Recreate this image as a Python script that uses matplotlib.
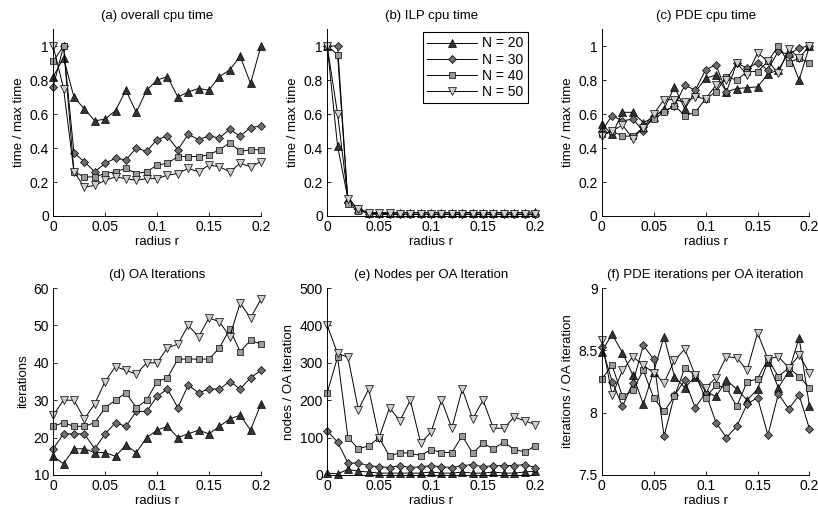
import numpy as np
import matplotlib
matplotlib.use("Agg")
import matplotlib.pyplot as plt
from matplotlib.ticker import FormatStrFormatter

plt.rcParams['font.family'] = ['Liberation Sans', 'DejaVu Sans']
plt.rcParams['font.size'] = 8.5

# radius values
r = np.arange(21) * 0.01
labels = ['N = 20', 'N = 30', 'N = 40', 'N = 50']

# (a) overall cpu time
a_n20 = [0.82, 0.93, 0.70, 0.63, 0.56, 0.57, 0.62, 0.74, 0.61, 0.74, 0.80, 0.82, 0.70, 0.73, 0.75, 0.74, 0.82, 0.86, 0.94, 0.78, 1.00]
a_n30 = [0.76, 1.00, 0.37, 0.32, 0.26, 0.31, 0.34, 0.33, 0.40, 0.38, 0.45, 0.47, 0.39, 0.48, 0.45, 0.47, 0.46, 0.51, 0.47, 0.52, 0.53]
a_n40 = [0.91, 1.00, 0.26, 0.23, 0.23, 0.25, 0.26, 0.28, 0.25, 0.26, 0.30, 0.31, 0.35, 0.35, 0.35, 0.36, 0.39, 0.43, 0.38, 0.39, 0.39]
a_n50 = [1.00, 0.75, 0.26, 0.17, 0.18, 0.21, 0.23, 0.22, 0.21, 0.22, 0.22, 0.24, 0.25, 0.28, 0.26, 0.30, 0.29, 0.26, 0.31, 0.29, 0.32]

# (b) ILP cpu time
b_n20 = [1.00, 0.41, 0.10, 0.04, 0.02, 0.02, 0.02, 0.02, 0.02, 0.02, 0.02, 0.02, 0.02, 0.02, 0.02, 0.02, 0.02, 0.02, 0.02, 0.02, 0.025]
b_n30 = [1.00, 1.00, 0.08, 0.04, 0.01, 0.01, 0.01, 0.01, 0.01, 0.01, 0.01, 0.01, 0.01, 0.01, 0.01, 0.01, 0.01, 0.01, 0.01, 0.01, 0.01]
b_n40 = [1.00, 0.95, 0.07, 0.03, 0.02, 0.01, 0.01, 0.01, 0.01, 0.01, 0.01, 0.01, 0.01, 0.01, 0.01, 0.01, 0.01, 0.01, 0.01, 0.01, 0.01]
b_n50 = [1.00, 0.60, 0.10, 0.04, 0.02, 0.015, 0.015, 0.01, 0.01, 0.01, 0.01, 0.01, 0.01, 0.01, 0.01, 0.01, 0.01, 0.01, 0.01, 0.01, 0.01]

# (c) PDE cpu time
c_n20 = [0.54, 0.48, 0.61, 0.61, 0.55, 0.58, 0.63, 0.76, 0.63, 0.73, 0.81, 0.83, 0.73, 0.75, 0.755, 0.76, 0.835, 0.86, 0.96, 0.80, 1.00]
c_n30 = [0.50, 0.59, 0.56, 0.57, 0.50, 0.59, 0.62, 0.645, 0.77, 0.74, 0.86, 0.89, 0.73, 0.90, 0.87, 0.90, 0.86, 0.97, 0.95, 0.99, 1.00]
c_n40 = [0.48, 0.50, 0.47, 0.47, 0.52, 0.57, 0.61, 0.65, 0.59, 0.61, 0.69, 0.73, 0.82, 0.80, 0.85, 0.85, 0.91, 1.00, 0.90, 0.93, 0.90]
c_n50 = [0.47, 0.50, 0.535, 0.455, 0.52, 0.60, 0.685, 0.685, 0.67, 0.70, 0.69, 0.77, 0.80, 0.90, 0.83, 0.96, 0.91, 0.84, 0.985, 0.93, 1.00]

# (d) OA iterations
d_n20 = [15, 13, 17, 17, 16, 16, 15, 18, 16, 20, 22, 23, 20, 21, 22, 21, 23, 25, 26, 22, 29]
d_n30 = [17, 21, 21, 21, 17, 21, 24, 23, 27, 27, 31, 33, 28, 34, 32, 33, 33, 35, 33, 36, 38]
d_n40 = [23, 24, 23, 23, 24, 28, 30, 32, 28, 30, 35, 36, 41, 41, 41, 41, 44, 49, 43, 46, 45]
d_n50 = [26, 30, 30, 25, 29, 35, 39, 38, 37, 40, 40, 44, 45, 50, 47, 52, 51, 47, 56, 52, 57]

# (e) nodes per OA iteration
e_n20 = [5, 3, 15, 10, 8, 5, 5, 5, 5, 5, 8, 5, 5, 8, 5, 5, 8, 5, 5, 8, 10]
e_n30 = [118, 88, 32, 32, 25, 22, 20, 25, 20, 22, 25, 22, 20, 25, 28, 22, 25, 25, 25, 28, 20]
e_n40 = [220, 315, 100, 70, 78, 100, 50, 60, 58, 52, 68, 60, 60, 105, 58, 85, 70, 88, 68, 62, 77]
e_n50 = [400, 325, 315, 175, 230, 100, 180, 145, 200, 85, 115, 200, 125, 230, 150, 200, 125, 125, 155, 145, 135]

# (f) PDE iterations per OA iteration
f_n20 = [8.49, 8.63, 8.48, 8.30, 8.07, 8.33, 8.61, 8.29, 8.20, 8.29, 8.17, 8.13, 8.26, 8.19, 8.10, 8.19, 8.41, 8.20, 8.33, 8.60, 8.05]
f_n30 = [8.53, 8.25, 8.05, 8.24, 8.54, 8.43, 7.81, 8.14, 8.26, 8.04, 8.16, 7.92, 7.80, 7.89, 8.07, 8.12, 7.82, 8.15, 8.03, 8.14, 7.87]
f_n40 = [8.27, 8.38, 8.13, 8.18, 8.34, 8.12, 8.01, 8.13, 8.36, 8.30, 8.12, 8.22, 8.20, 8.05, 8.25, 8.27, 8.43, 8.29, 8.36, 8.29, 8.20]
f_n50 = [8.58, 8.14, 8.34, 8.45, 8.38, 8.32, 8.24, 8.42, 8.51, 8.30, 8.20, 8.28, 8.45, 8.44, 8.34, 8.64, 8.43, 8.45, 8.36, 8.46, 8.32]

markers = ['^', 'D', 's', 'v']
fills = ['#333333', '#6e6e6e', '#9a9a9a', '#cfcfcf']
msizes = [5.5, 4.5, 4.5, 5.5]

panels = [
    ('(a) overall cpu time', 'time / max time', [a_n20, a_n30, a_n40, a_n50], (0, 1.1), [0, 0.2, 0.4, 0.6, 0.8, 1]),
    ('(b) ILP cpu time', 'time / max time', [b_n20, b_n30, b_n40, b_n50], (0, 1.1), [0, 0.2, 0.4, 0.6, 0.8, 1]),
    ('(c) PDE cpu time', 'time / max time', [c_n20, c_n30, c_n40, c_n50], (0, 1.1), [0, 0.2, 0.4, 0.6, 0.8, 1]),
    ('(d) OA Iterations', 'iterations', [d_n20, d_n30, d_n40, d_n50], (10, 60), [10, 20, 30, 40, 50, 60]),
    ('(e) Nodes per OA Iteration', 'nodes / OA iteration', [e_n20, e_n30, e_n40, e_n50], (0, 500), [0, 100, 200, 300, 400, 500]),
    ('(f) PDE iterations per OA iteration', 'iterations / OA iteration', [f_n20, f_n30, f_n40, f_n50], (7.5, 9), [7.5, 8, 8.5, 9]),
]

fig = plt.figure(figsize=(8.18, 5.15), dpi=100)
lefts = [0.065, 0.4, 0.7356]
bottoms = [0.5806, 0.0777]
w, h = 0.254, 0.363

for k, (title, ylab, series, ylim, yticks) in enumerate(panels):
    ax = fig.add_axes([lefts[k % 3], bottoms[k // 3], w, h])
    for s, m, fc, ms, lab in zip(series, markers, fills, msizes, labels):
        ax.plot(r, s, color='black', lw=0.7, marker=m, markerfacecolor=fc,
                markeredgecolor='black', markeredgewidth=0.5, markersize=ms,
                label=lab, clip_on=False)
    ax.set_xlim(0, 0.2)
    ax.set_ylim(*ylim)
    ax.set_xticks([0, 0.05, 0.1, 0.15, 0.2])
    ax.set_yticks(yticks)
    ax.xaxis.set_major_formatter(FormatStrFormatter('%g'))
    ax.yaxis.set_major_formatter(FormatStrFormatter('%g'))
    ax.spines['top'].set_visible(False)
    ax.spines['right'].set_visible(False)
    ax.spines['left'].set_linewidth(0.7)
    ax.spines['bottom'].set_linewidth(0.7)
    ax.tick_params(direction='in', length=3, width=0.6, labelsize=10, pad=3)
    ax.set_title(title, fontsize=9.5, pad=7)
    ax.set_xlabel('radius r', fontsize=9.5, labelpad=1)
    ax.set_ylabel(ylab, fontsize=9.5, labelpad=3)
    if k == 1:
        leg = ax.legend(loc='upper right', bbox_to_anchor=(1.0, 1.02), fontsize=10,
                        fancybox=False, edgecolor='black', framealpha=1,
                        handlelength=3.6, handletextpad=0.4, borderpad=0.3,
                        labelspacing=0.15)
        leg.get_frame().set_linewidth(0.8)

fig.savefig('out.png', dpi=100)
